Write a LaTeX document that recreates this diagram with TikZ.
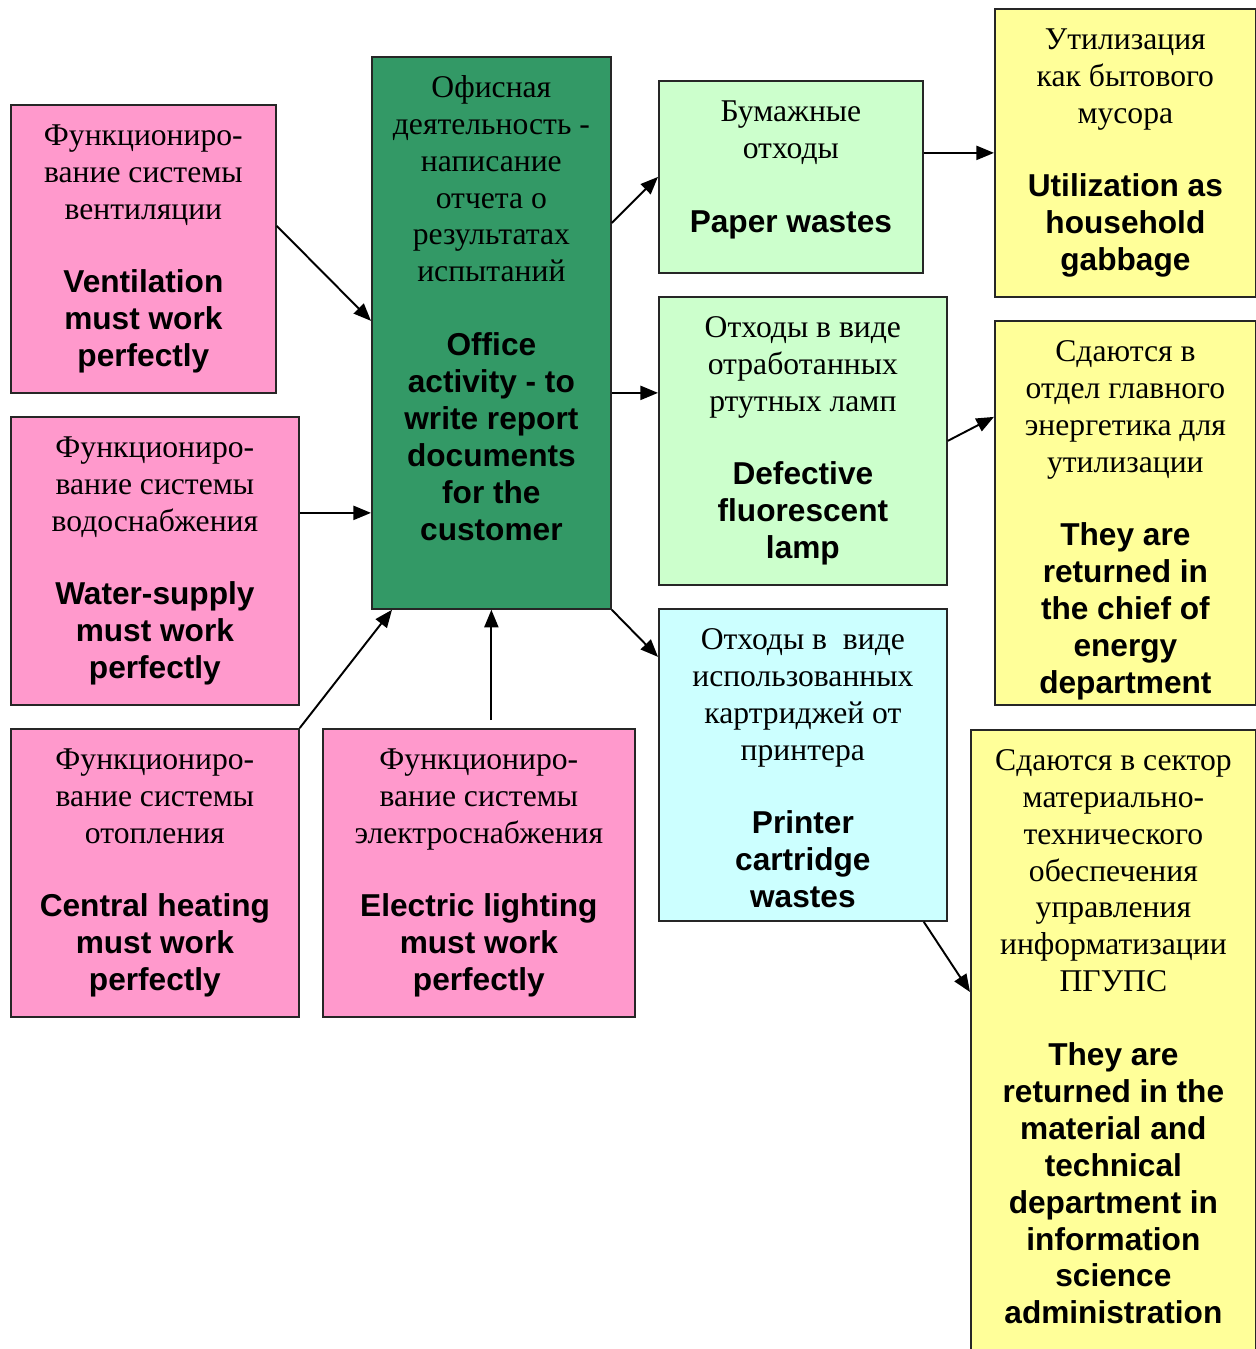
\documentclass[tikz,border=0pt]{standalone}
\usepackage{fontspec}
\setmainfont{Liberation Serif}
\newfontfamily\ensf{Liberation Sans}
\usetikzlibrary{arrows.meta}
\definecolor{rosa}{HTML}{FF99CC}
\definecolor{verde}{HTML}{339966}
\definecolor{verdeclaro}{HTML}{CCFFCC}
\definecolor{celeste}{HTML}{CCFFFF}
\definecolor{amarillo}{HTML}{FFFF99}
\tikzstyle{caja}=[draw=black!85, line width=1pt, anchor=north west, inner sep=0pt]
\tikzstyle{sistema}=[caja, fill=rosa]
\tikzstyle{oficina}=[caja, fill=verde]
\tikzstyle{residuo}=[caja, fill=verdeclaro]
\tikzstyle{cartucho}=[caja, fill=celeste]
\tikzstyle{destino}=[caja, fill=amarillo]
\tikzstyle{line}=[draw, line width=1.1pt, -{Triangle[length=10pt,width=8pt]}]
\newcommand{\bloque}[6]{node (#1) [#2]
  {\parbox[t][#4][t]{#3}{\centering\fontsize{18}{21}\selectfont
   \rule{0pt}{23pt}#5\\[21pt]{\ensf\bfseries #6}}}}

\begin{document}
\begin{tikzpicture}
  \useasboundingbox (0,0) rectangle (25.12,-26.98);

  % Draw diagram elements
  \path (0.2,-2.08) \bloque{vent}{sistema}{5.3cm}{5.76cm}
    {Функциониро-\\вание системы\\вентиляции}{Ventilation\\must work\\perfectly};
  \path (0.2,-8.32) \bloque{water}{sistema}{5.76cm}{5.76cm}
    {Функциониро-\\вание системы\\водоснабжения}{Water-supply\\must work\\perfectly};
  \path (0.2,-14.56) \bloque{heat}{sistema}{5.76cm}{5.76cm}
    {Функциониро-\\вание системы\\отопления}{Central heating\\must work\\perfectly};
  \path (6.44,-14.56) \bloque{elec}{sistema}{6.24cm}{5.76cm}
    {Функциониро-\\вание системы\\электроснабжения}{Electric lighting\\must work\\perfectly};
  \path (7.42,-1.12) \bloque{green}{oficina}{4.78cm}{11.04cm}
    {Офисная\\деятельность -\\написание\\отчета о\\результатах\\испытаний}
    {Office\\activity - to\\write report\\documents\\for the\\customer};
  \path (13.16,-1.6) \bloque{paper}{residuo}{5.28cm}{3.84cm}
    {Бумажные\\отходы}{Paper wastes};
  \path (13.16,-5.92) \bloque{lamp}{residuo}{5.76cm}{5.76cm}
    {Отходы в виде\\отработанных\\ртутных ламп}{Defective\\fluorescent\\lamp};
  \path (13.16,-12.16) \bloque{cart}{cartucho}{5.76cm}{6.24cm}
    {Отходы в~~виде\\использованных\\картриджей от\\принтера}{Printer\\cartridge\\wastes};
  \path (19.88,-0.16) \bloque{util}{destino}{5.22cm}{5.76cm}
    {Утилизация\\как бытового\\мусора}{Utilization as\\household\\gabbage};
  \path (19.88,-6.4) \bloque{chief}{destino}{5.22cm}{7.68cm}
    {Сдаются в\\отдел главного\\энергетика для\\утилизации}
    {They are\\returned in\\the chief of\\energy\\department};
  \path (19.4,-14.58) \bloque{sector}{destino}{5.7cm}{12.62cm}
    {Сдаются в сектор\\материально-\\технического\\обеспечения\\управления\\информатизации\\ПГУПС}
    {They are\\returned in the\\material and\\technical\\department in\\information\\science\\administration};

  % Connectors
  \coordinate (a1) at ([yshift=0.46cm]vent.east);
  \coordinate (a2) at ([yshift=0.96cm]water.east);
  \coordinate (a4) at ([yshift=0.16cm]elec.north);
  \coordinate (a6) at ([yshift=0.96cm]lamp.west);
    \path [line] (a1) -- ([yshift=0.24cm]green.west);
    \path [line] (a2) -- (a2 -| green.west);
    \path [line] (heat.north east) -- ([xshift=0.42cm]green.south west);
    \path [line] (green.south |- a4) -- (green.south);
    \path [line] ([yshift=2.2cm]green.east) -- (paper.west);
    \path [line] (a6 -| green.east) -- (a6);
    \path [line] (green.south east) -- ([yshift=2.16cm]cart.west);
    \path [line] (paper.east |- util.west) -- (util.west);
    \path [line] (lamp.east) -- ([yshift=1.92cm]chief.west);
    \path [line] ([xshift=-0.48cm]cart.south east) -- ([yshift=-5.26cm]sector.north west);
\end{tikzpicture}
\end{document}
